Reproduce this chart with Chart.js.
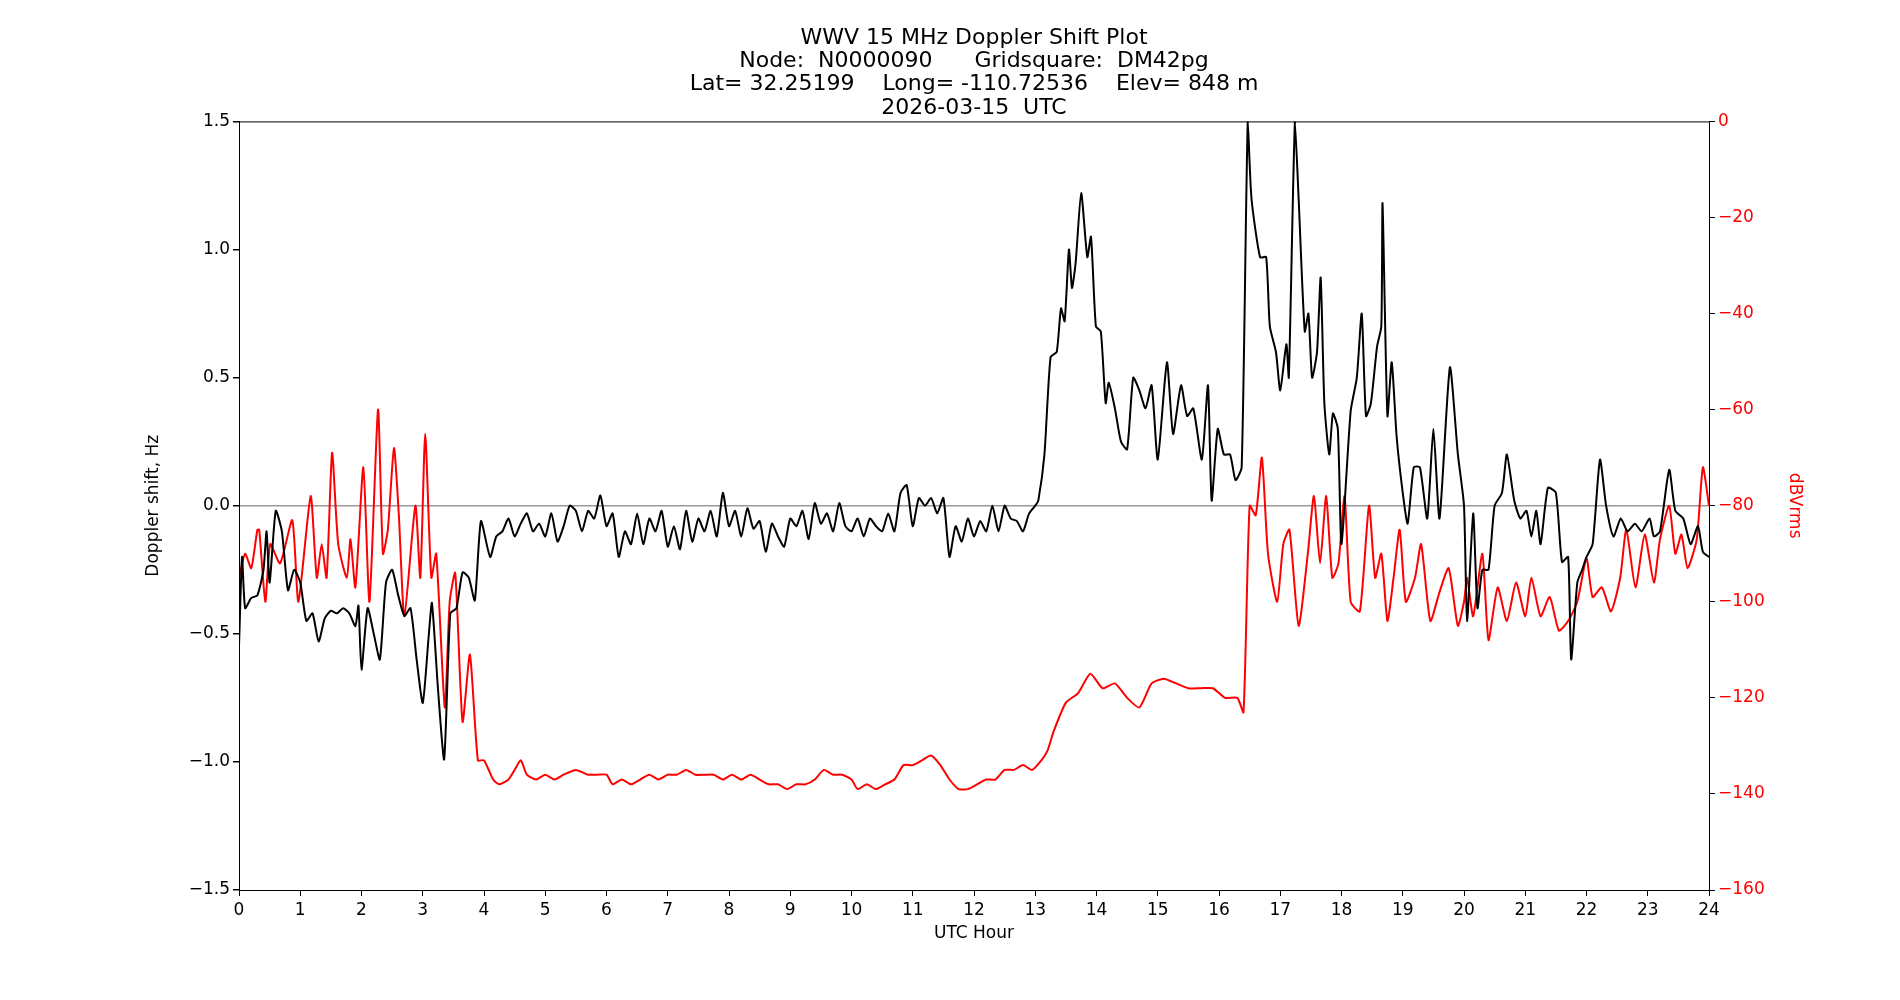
<!DOCTYPE html>
<html>
<head>
<meta charset="utf-8">
<script src="https://cdn.jsdelivr.net/npm/chart.js@4"></script>
<style>
  body { margin: 0; background: #fff; }
  canvas { display: block; }
</style>
</head>
<body>
<canvas id="chart" width="1900" height="1000"></canvas>
<script>
const titleLines = [
  'WWV 15 MHz Doppler Shift Plot',
  'Node:  N0000090      Gridsquare:  DM42pg',
  'Lat= 32.25199    Long= -110.72536    Elev= 848 m',
  '2026-03-15  UTC'
];
const hourTicks = [0,1,2,3,4,5,6,7,8,9,10,11,12,13,14,15,16,17,18,19,20,21,22,23,24];

// Doppler shift (black, left axis)
const dopplerHours = [0,0.05,0.1,0.2,0.3,0.4,0.45,0.5,0.6,0.7,0.8,0.9,1.0,1.1,1.2,1.3,1.4,1.5,1.6,1.7,1.8,1.9,1.95,2.0,2.1,2.2,2.3,2.4,2.5,2.6,2.7,2.8,2.9,3.0,3.1,3.15,3.25,3.35,3.45,3.55,3.65,3.75,3.85,3.95,4.1,4.2,4.3,4.4,4.5,
  4.6,4.7,4.8,4.9,5.0,5.1,5.2,5.3,5.4,5.5,5.6,5.7,5.8,5.9,6.0,6.1,6.2,6.3,6.4,6.5,6.6,6.7,6.8,6.9,7.0,7.1,7.2,7.3,7.4,7.5,7.6,7.7,7.8,7.9,8.0,8.1,8.2,8.3,8.4,8.5,8.6,8.7,8.8,8.9,9.0,9.1,9.2,9.3,9.4,9.5,9.6,9.7,9.8,9.9,10.0,10.1,10.2,10.3,10.4,10.5,10.6,10.7,10.8,10.9,11.0,11.1,11.2,11.3,11.4,11.5,11.6,11.7,11.8,11.9,12.0,12.1,12.2,12.3,12.4,12.5,12.6,12.7,12.8,12.9,13.0,
  13.05,13.15,13.25,13.35,13.42,13.48,13.55,13.6,13.66,13.75,13.85,13.91,13.99,14.07,14.15,14.2,14.3,14.4,14.5,14.6,14.7,14.8,14.9,15.0,
  15.15,15.25,15.38,15.48,15.58,15.72,15.82,15.88,15.98,16.08,16.18,16.27,16.37,16.47,16.53,16.67,16.77,16.83,16.93,17.0,
  17.1,17.14,17.24,17.3,17.4,17.46,17.52,17.6,17.66,17.72,17.8,17.86,17.94,18.0,18.15,18.25,18.33,18.4,18.48,18.58,
  18.65,18.67,18.75,18.82,18.9,19.0,19.08,19.18,19.28,19.4,19.5,19.6,19.77,19.9,20.0,20.05,20.15,20.22,20.3,20.4,
  20.5,20.62,20.7,20.82,20.92,21.02,21.1,21.18,21.25,21.37,21.5,21.6,21.7,21.75,21.85,21.93,22.0,22.1,22.22,22.32,
  22.44,22.56,22.67,22.79,22.9,23.03,23.1,23.2,23.35,23.45,23.58,23.7,23.82,23.9,24.0];
const dopplerHz = [-0.55,-0.2,-0.4,-0.36,-0.35,-0.25,-0.1,-0.3,-0.02,-0.1,-0.33,-0.25,-0.3,-0.45,-0.42,-0.53,-0.44,-0.41,-0.42,-0.4,-0.42,-0.47,-0.39,-0.64,-0.4,-0.5,-0.6,-0.3,-0.25,-0.35,-0.43,-0.4,-0.6,-0.77,-0.5,-0.38,-0.72,-0.99,-0.42,-0.4,-0.26,-0.28,-0.37,-0.06,-0.2,-0.12,-0.1,-0.05,-0.12,
  -0.07,-0.03,-0.1,-0.07,-0.12,-0.03,-0.14,-0.08,0.0,-0.02,-0.1,-0.02,-0.05,0.04,-0.08,-0.03,-0.2,-0.1,-0.15,-0.03,-0.15,-0.05,-0.1,-0.02,-0.16,-0.08,-0.17,-0.02,-0.14,-0.05,-0.1,-0.02,-0.12,0.05,-0.08,-0.02,-0.12,-0.01,-0.09,-0.06,-0.18,-0.07,-0.12,-0.16,-0.05,-0.08,-0.02,-0.13,0.01,-0.07,-0.03,-0.1,0.01,-0.08,-0.1,-0.05,-0.12,-0.05,-0.08,-0.1,-0.03,-0.1,0.05,0.08,-0.08,0.03,0.0,0.03,-0.03,0.03,-0.2,-0.08,-0.14,-0.05,-0.12,-0.06,-0.1,0.0,-0.1,0.0,-0.05,-0.06,-0.1,-0.03,0.0,
  0.02,0.2,0.58,0.6,0.77,0.72,1.0,0.85,0.95,1.22,0.97,1.05,0.7,0.68,0.4,0.48,0.38,0.25,0.22,0.5,0.45,0.38,0.47,0.18,
  0.56,0.28,0.47,0.35,0.38,0.18,0.47,0.02,0.3,0.2,0.2,0.1,0.15,1.5,1.2,0.97,0.97,0.7,0.6,0.45,
  0.63,0.5,1.5,1.2,0.68,0.75,0.5,0.6,0.89,0.4,0.2,0.36,0.3,-0.15,0.37,0.5,0.75,0.35,0.4,0.62,
  0.7,1.18,0.35,0.56,0.27,0.05,-0.07,0.15,0.15,-0.05,0.3,-0.05,0.54,0.2,0.0,-0.45,-0.03,-0.4,-0.25,-0.25,
  0.0,0.05,0.2,0.02,-0.05,-0.02,-0.12,-0.02,-0.15,0.07,0.05,-0.22,-0.2,-0.6,-0.3,-0.25,-0.2,-0.15,0.18,0.0,
  -0.12,-0.05,-0.1,-0.07,-0.1,-0.05,-0.12,-0.1,0.14,-0.02,-0.05,-0.15,-0.08,-0.18,-0.2];

// Signal level (red, right axis)
const levelHours = [0,0.1,0.2,0.3,0.33,0.43,0.51,0.67,0.87,0.97,1.17,1.27,1.35,1.43,1.52,1.62,1.76,1.82,1.9,2.03,2.13,2.27,2.35,2.43,2.53,2.61,2.7,2.88,2.96,3.04,3.14,3.22,3.36,3.44,3.53,3.65,3.77,3.9,
  4.0,4.15,4.25,4.4,4.5,4.6,4.7,4.85,5.0,5.15,5.3,5.5,5.7,5.85,6.0,6.1,6.25,6.4,6.55,6.7,6.85,7.0,7.15,7.3,7.45,7.6,7.75,7.9,8.05,8.2,8.35,8.5,8.65,8.8,8.95,9.1,9.25,9.4,9.55,9.7,9.85,10.0,
  10.1,10.25,10.4,10.55,10.7,10.85,11.0,11.15,11.3,11.45,11.6,11.75,11.9,12.05,12.2,12.35,12.5,12.65,12.8,12.95,13.1,13.2,13.3,
  13.5,13.7,13.9,14.1,14.3,14.5,14.7,14.9,15.1,15.3,15.5,15.7,15.9,16.1,16.3,16.4,16.5,16.6,16.7,16.8,16.95,17.05,17.15,17.3,17.45,17.55,17.65,17.75,17.85,17.95,18.05,18.15,18.3,18.45,18.55,18.65,18.75,18.85,18.95,19.05,19.2,19.3,19.45,19.6,19.75,19.9,20.0,20.05,20.15,20.3,20.4,20.55,20.7,20.85,21.0,21.1,21.25,21.4,21.55,21.7,21.85,22.0,22.1,22.25,22.4,22.55,22.65,22.8,22.95,23.1,23.2,23.35,23.45,23.55,23.65,23.8,23.9,24.0];
const levelDb = [-95,-90,-93,-85,-85,-100,-88,-92,-83,-100,-78,-95,-88,-95,-69,-88,-95,-87,-97,-72,-100,-60,-90,-85,-68,-82,-103,-80,-95,-65,-95,-90,-122,-100,-94,-125,-111,-133,
  -133,-137,-138,-137,-135,-133,-136,-137,-136,-137,-136,-135,-136,-136,-136,-138,-137,-138,-137,-136,-137,-136,-136,-135,-136,-136,-136,-137,-136,-137,-136,-137,-138,-138,-139,-138,-138,-137,-135,-136,-136,-137,
  -139,-138,-139,-138,-137,-134,-134,-133,-132,-134,-137,-139,-139,-138,-137,-137,-135,-135,-134,-135,-133,-131,-127,
  -121,-119,-115,-118,-117,-120,-122,-117,-116,-117,-118,-118,-118,-120,-120,-123,-80,-82,-70,-90,-100,-88,-85,-105,-90,-78,-92,-78,-95,-92,-78,-100,-102,-80,-95,-90,-104,-95,-85,-100,-95,-88,-104,-98,-93,-105,-100,-95,-103,-90,-108,-97,-104,-96,-103,-95,-103,-99,-106,-104,-100,-91,-99,-97,-102,-95,-85,-97,-86,-96,-87,-80,-90,-86,-93,-87,-72,-80];

const toPoints = (xs, ys) => xs.map((x, i) => ({ x: x, y: ys[i] }));

const frameBox = {
  id: 'frameBox',
  afterDraw(chart) {
    const a = chart.chartArea, c = chart.ctx;
    c.save();
    c.strokeStyle = '#000';
    c.lineWidth = 1;
    c.strokeRect(a.left + 0.5, a.top + 0.5, a.right - a.left, a.bottom - a.top);
    c.restore();
  }
};

Chart.defaults.font.family = 'DejaVu Sans';
Chart.defaults.color = '#000';

new Chart(document.getElementById('chart').getContext('2d'), {
  type: 'line',
  data: {
    datasets: [{
      data: toPoints(dopplerHours, dopplerHz),
      borderColor: '#000',
      borderWidth: 2,
      pointRadius: 0,
      tension: 0.2,
      yAxisID: 'y'
    }, {
      data: toPoints(levelHours, levelDb),
      borderColor: '#ff0000',
      borderWidth: 2,
      pointRadius: 0,
      tension: 0.2,
      yAxisID: 'y1'
    }]
  },
  options: {
    responsive: false,
    animation: false,
    layout: { padding: { left: 139, right: 91, top: 0, bottom: 56 } },
    plugins: {
      legend: { display: false },
      tooltip: { enabled: false },
      title: {
        display: true,
        text: titleLines,
        font: { size: 22, weight: 'normal', lineHeight: 1.05 },
        padding: { top: 27, bottom: 2 }
      }
    },
    scales: {
      x: {
        type: 'linear',
        min: 0,
        max: 24,
        afterBuildTicks: s => { s.ticks = hourTicks.map(v => ({ value: v })); },
        afterFit: s => { s.height = 54; },
        ticks: { font: { size: 17 }, padding: 4, maxRotation: 0 },
        grid: { drawOnChartArea: false, tickLength: 6, tickColor: '#000' },
        border: { color: '#000' },
        title: { display: true, text: 'UTC Hour', font: { size: 17 }, padding: 0 }
      },
      y: {
        position: 'left',
        min: -1.5,
        max: 1.5,
        afterFit: s => { s.width = 100; },
        ticks: {
          stepSize: 0.5,
          font: { size: 17 },
          callback: v => (v < 0 ? '\u2212' + Math.abs(v).toFixed(1) : v.toFixed(1))
        },
        grid: {
          tickLength: 6,
          tickColor: '#000',
          lineWidth: 1.5,
          color: c => (c.tick && c.tick.value === 0 ? '#999' : 'rgba(0,0,0,0)')
        },
        border: { color: '#000' },
        title: { display: true, text: 'Doppler shift, Hz', font: { size: 17 }, padding: 4 }
      },
      y1: {
        position: 'right',
        min: -160,
        max: 0,
        afterFit: s => { s.width = 100; },
        ticks: {
          stepSize: 20,
          color: '#ff0000',
          font: { size: 17 },
          callback: v => (v < 0 ? '\u2212' + Math.abs(v) : String(v))
        },
        grid: { drawOnChartArea: false, tickLength: 6, tickColor: '#000' },
        border: { color: '#000' },
        title: { display: true, text: 'dBVrms', color: '#ff0000', font: { size: 17 }, padding: 4 }
      }
    }
  },
  plugins: [frameBox]
});
</script>
</body>
</html>
